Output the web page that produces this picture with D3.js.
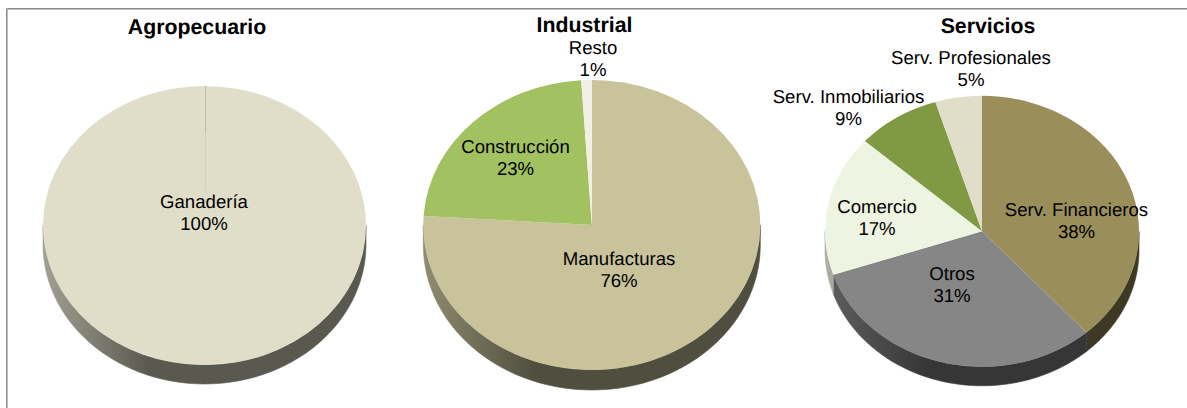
<!DOCTYPE html>
<html>
<head>
<meta charset="utf-8">
<script src="https://d3js.org/d3.v7.min.js"></script>
<style>
html,body{margin:0;padding:0;background:#fff}
svg{display:block}
text{font-family:"Liberation Sans",Arial,sans-serif;fill:#000;text-anchor:middle;text-rendering:geometricPrecision}
.title{font-weight:700;font-size:21.3px}
.label{font-size:18.6px}
</style>
</head>
<body>
<svg id="chart" width="1187" height="408"></svg>
<script>
const agroCategories = ["Ganadería"];
const agroValues = [100];
const agroColors = ["#e0dec9"];

const induCategories = ["Manufacturas", "Construcción", "Resto"];
const induValues = [76, 23, 1];
const induColors = ["#c8c39b", "#a2c262", "#f2f0e6"];

const servCategories = ["Serv. Financieros", "Otros", "Comercio", "Serv. Inmobiliarios", "Serv. Profesionales"];
const servValues = [38.4, 31.4, 16.8, 8.6, 4.8];
const servColors = ["#9a8f5b", "#868686", "#eef4e2", "#7f9a43", "#e0ddc9"];

// Layout, separate from the data
const panels = [
  {title:"Agropecuario", titleX:197, titleY:34, cx:204.5, cy:225.5, rx:161.5, ry:139.5, depth:19,
   categories:agroCategories, values:agroValues, colors:agroColors,
   labelAt:[[204,208]]},
  {title:"Industrial", titleX:584.5, titleY:32, cx:591.8, cy:225, rx:168.5, ry:145, depth:20,
   categories:induCategories, values:induValues, colors:induColors,
   labelAt:[[619,265],[515.5,153],[593,54]]},
  {title:"Servicios", titleX:988, titleY:33, cx:982, cy:231.3, rx:157, ry:135.5, depth:19,
   categories:servCategories, values:servValues, colors:servColors,
   labelAt:[[1076.5,216],[952,280],[877,213],[848.5,103],[971,64]]}
];
const lineHeight = 21.7;

const svg = d3.select("#chart");
const defs = svg.append("defs");
const pct = d3.format(".0%");
const frameDark = "#8c8c8c", frameLight = "#bdbdbd";

// Frame: only the top and left edges are visible
[[6.5,8.5,1187,8.5,frameDark],[7.5,9.5,1187,9.5,frameLight],
 [6.5,8.5,6.5,408,frameDark],[7.5,9.5,7.5,408,frameLight]].forEach(d=>{
  svg.append("line").attr("x1",d[0]).attr("y1",d[1]).attr("x2",d[2]).attr("y2",d[3])
     .attr("stroke",d[4]).attr("stroke-width",1);
});

const pie = d3.pie().sort(null).value(d=>d.value).startAngle(0).endAngle(2*Math.PI);

panels.forEach((p,pi)=>{
  const rows = p.categories.map((c,i)=>({category:c,value:p.values[i],color:p.colors[i]}));
  const slices = pie(rows);
  const total = d3.sum(p.values);
  const g = svg.append("g");

  const px = a => p.cx + p.rx*Math.sin(a);
  const py = (a,dz) => p.cy - p.ry*Math.cos(a) + dz;

  // Side wall: the part of every slice facing the viewer
  const wallLine = d3.line().x(d=>d[0]).y(d=>d[1]);
  slices.forEach((s,i)=>{
    const a0 = Math.max(s.startAngle, Math.PI/2), a1 = Math.min(s.endAngle, 3*Math.PI/2);
    if(a1 <= a0) return;
    const n = 60;
    const angles = d3.range(n+1).map(k=>a0+(a1-a0)*k/n);
    const pts = angles.map(a=>[px(a),py(a,0)]).concat(angles.slice().reverse().map(a=>[px(a),py(a,p.depth)]));
    const id = `wall-${pi}-${i}`;
    const base = d3.rgb(s.data.color);
    const scaled = k => d3.rgb(base.r*k,base.g*k,base.b*k).formatHex();
    const grad = defs.append("linearGradient").attr("id",id)
      .attr("gradientUnits","userSpaceOnUse")
      .attr("x1",p.cx-p.rx).attr("x2",p.cx+p.rx).attr("y1",0).attr("y2",0);
    grad.append("stop").attr("offset",0).attr("stop-color",scaled(0.72));
    grad.append("stop").attr("offset",0.33).attr("stop-color",scaled(0.4));
    grad.append("stop").attr("offset",1).attr("stop-color",scaled(0.4));
    g.append("path").attr("d",wallLine(pts)+"Z").attr("fill",`url(#${id})`)
     .attr("stroke",`url(#${id})`).attr("stroke-width",0.6);
  });

  // Top face
  const arc = d3.arc().innerRadius(0).outerRadius(p.rx);
  g.append("g")
    .attr("transform",`translate(${p.cx},${p.cy}) scale(1,${p.ry/p.rx})`)
    .selectAll("path").data(slices).join("path")
    .attr("d",arc)
    .attr("fill",d=>d.data.color);

  // The full-circle slice shows its seam at the top
  if(slices.length===1){
    const x = Math.round(p.cx)+0.5;
    [[p.cy-p.ry,p.cy-93,"#c0bfaf"],[p.cy-93,p.cy-35,"#d2d1bd"]].forEach(d=>{
      g.append("line").attr("x1",x).attr("x2",x).attr("y1",d[0]).attr("y2",d[1])
       .attr("stroke",d[2]).attr("stroke-width",1);
    });
  }

  // Title and labels
  g.append("text").attr("class","title").attr("x",p.titleX).attr("y",p.titleY).text(p.title);
  slices.forEach((s,i)=>{
    const at = p.labelAt[i];
    const t = g.append("text").attr("class","label").attr("x",at[0]).attr("y",at[1]);
    t.append("tspan").attr("x",at[0]).text(s.data.category);
    t.append("tspan").attr("x",at[0]).attr("dy",lineHeight).text(pct(s.data.value/total));
  });
});
</script>
</body>
</html>
